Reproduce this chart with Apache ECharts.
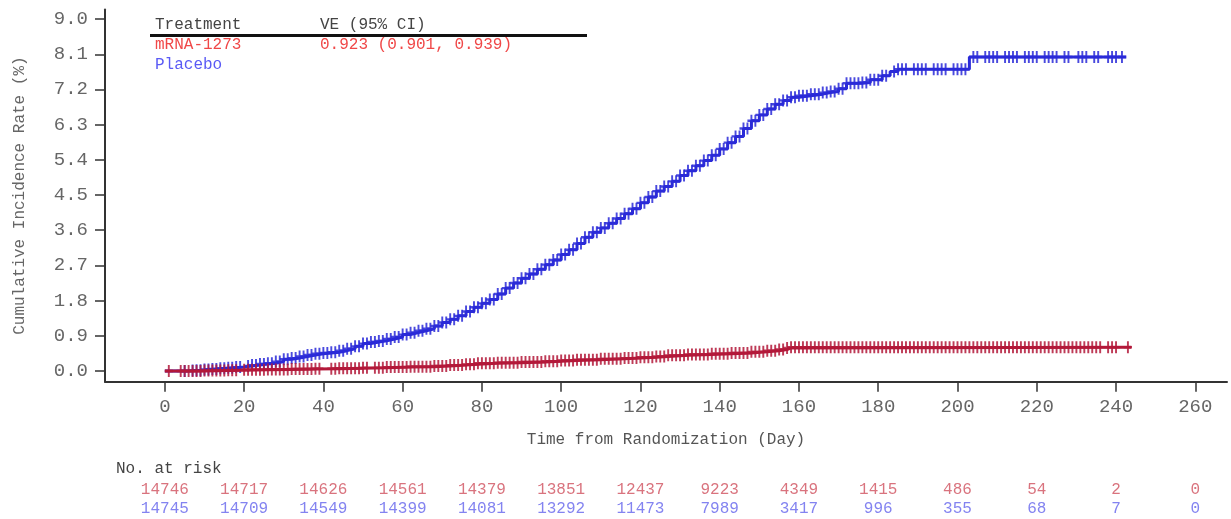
<!DOCTYPE html>
<html>
<head>
<meta charset="utf-8">
<script src="https://cdn.jsdelivr.net/npm/echarts@6/dist/echarts.min.js"></script>
<style>
html,body{margin:0;padding:0;background:#fff;}
#c{width:1231px;height:519px;}
</style>
</head>
<body>
<div id="c"></div>
<script>
// ---------- DATA ----------
const xTicks = [0,20,40,60,80,100,120,140,160,180,200,220,240,260];
const yTicks = [0.0,0.9,1.8,2.7,3.6,4.5,5.4,6.3,7.2,8.1,9.0];

// Placebo KM step points (day, cumulative incidence %)
const placeboDays = [0,6,8,10,12,14,16,18,20,22,24,26,28,30,32,34,36,38,40,42,44,46,48,50,52,54,56,58,60,62,64,66,68,70,72,74,76,78,80,82,84,86,88,90,92,94,96,98,100,102,104,106,108,110,112,114,116,118,120,122,124,126,128,130,132,134,136,138,140,142,144,146,148,150,152,154,156,158,160,163,166,168,170,172,176,178,181,183,185,203,242.6];
const placeboRate = [0,0.01,0.02,0.04,0.05,0.07,0.08,0.10,0.13,0.15,0.18,0.20,0.24,0.30,0.33,0.37,0.41,0.44,0.46,0.48,0.52,0.57,0.63,0.70,0.74,0.77,0.82,0.87,0.93,0.98,1.03,1.08,1.15,1.24,1.32,1.41,1.52,1.63,1.73,1.83,1.97,2.12,2.25,2.37,2.48,2.60,2.72,2.84,2.98,3.10,3.26,3.42,3.55,3.66,3.78,3.90,4.02,4.15,4.30,4.45,4.60,4.72,4.85,5.00,5.12,5.25,5.38,5.52,5.68,5.84,6.00,6.20,6.40,6.55,6.70,6.82,6.92,7.00,7.04,7.08,7.12,7.15,7.22,7.36,7.38,7.45,7.55,7.66,7.72,8.03,8.03];

// mRNA-1273 KM step points
const mrnaDays = [0,10,16,20,26,32,38,44,50,56,62,68,72,76,79,84,90,96,100,104,110,116,120,124,127,132,138,143,148,152,155,157,158,243.9];
const mrnaRate = [0,0.01,0.02,0.03,0.04,0.05,0.06,0.07,0.08,0.10,0.11,0.13,0.15,0.17,0.20,0.21,0.23,0.25,0.27,0.29,0.31,0.33,0.35,0.37,0.40,0.42,0.44,0.46,0.49,0.52,0.55,0.59,0.61,0.61];

// Censoring times (days)
const placeboCensor = [5,7,8,9,10,11,12,13,14,15,16,17,18,19,21,22,23,24,25,26,27,28,29,30,31,32,33,34,35,36,37,38,39,40,41,42,43,44,45,46,47,48,49,50,51,52,53,54,55,56,57,58,59,60,61,62,63,64,65,66,67,68,69,70,71,72,73,74,75,76,77,78,79,80,81,82,83,84,85,86,87,88,89,90,91,92,93,94,95,96,97,98,99,100,101,102,103,104,105,106,107,108,109,110,111,112,113,114,115,116,117,118,119,120,121,122,123,124,125,126,127,128,129,130,131,132,133,134,135,136,137,138,139,140,141,142,143,144,145,146,147,148,149,150,151,152,153,154,155,156,157,158,159,160,161,162,163,164,165,166,167,168,169,170,171,172,173,174,175,176,177,178,179,180,181,182,184,185,186,187,189,190,191,192,194,195,196,197,199,200,201,202,204,205,207,208,209,210,212,213,214,215,217,218,219,220,222,223,224,225,227,228,230.5,231.5,232.5,234.5,235.5,238,239,240,241.5];
const mrnaCensor = [1,4,5,6,7,8,9,10,11,12,13,14,15,16,17,18,20,21,22,23,24,25,26,27,28,29,30,31,32,33,34,35,36,37,38,39,42,43,44,45,46,47,48,49,50,51,53,54,55,56,57,58,59,60,61,62,63,64,65,66,67,68,69,70,71,72,73,74,75,76,77,78,79,80,81,82,83,84,85,86,87,88,89,90,91,92,93,94,95,96,97,98,99,100,101,102,103,104,105,106,107,108,109,110,111,112,113,114,115,116,117,118,119,120,121,122,123,124,125,126,127,128,129,130,131,132,133,134,135,136,137,138,139,140,141,142,143,144,145,146,147,148,149,150,151,152,153,154,155,156,157,158,159,160,161,162,163,164,165,166,167,168,169,170,171,172,173,174,175,176,177,178,179,180,181,182,183,184,185,186,187,188,189,190,191,192,193,194,195,196,197,198,199,200,201,202,203,204,205,206,207,208,209,210,211,212,213,214,215,216,217,218,219,220,221,222,223,224,225,226,227,228,229,230,231,232,233,234,235,236,238,239,240,243];

// Number at risk
const riskDays = [0,20,40,60,80,100,120,140,160,180,200,220,240,260];
const mrnaRisk = [14746,14717,14626,14561,14379,13851,12437,9223,4349,1415,486,54,2,0];
const placeboRisk = [14745,14709,14549,14399,14081,13292,11473,7989,3417,996,355,68,7,0];

// Legend / annotation text
const treatmentNames = ['mRNA-1273','Placebo'];
const veText = '0.923 (0.901, 0.939)';

// ---------- CHART ----------
const FONT = '"Liberation Mono", "DejaVu Sans Mono", monospace';
const RED = '#b3193a';
const BLUE = '#2a2ad8';

function stepAt(days, rates, t) {
  let v = rates[0];
  for (let i = 0; i < days.length; i++) { if (days[i] <= t) v = rates[i]; else break; }
  return v;
}
const pairs = (a, b) => a.map((d, i) => [d, b[i]]);
const crossPath = 'path://M3.8,0h2.4v10h-2.4z M0,4h10v2h-10z';

const chart = echarts.init(document.getElementById('c'), null, {renderer: 'canvas'});
const option = {
  animation: false,
  backgroundColor: '#fff',
  grid: [
    {left: 105, right: 4, top: 9.5, bottom: 137.3},
    {left: 105, right: 4, top: 480, height: 39}
  ],
  xAxis: [{
    type: 'value', gridIndex: 0, min: -15.1, max: 268,
    name: 'Time from Randomization (Day)', nameLocation: 'middle', nameGap: 50,
    nameTextStyle: {fontFamily: FONT, fontSize: 16, color: '#555'},
    axisLine: {show: true, onZero: false, lineStyle: {color: '#333', width: 2}},
    axisTick: {show: true, length: 10, lineStyle: {color: '#333', width: 1.5}, customValues: xTicks},
    axisLabel: {fontFamily: FONT, fontSize: 19, color: '#666', margin: 16, customValues: xTicks},
    splitLine: {show: false}
  }, {
    type: 'value', gridIndex: 1, min: -15.1, max: 268, show: false
  }],
  yAxis: [{
    type: 'value', gridIndex: 0, min: -0.274, max: 9.245,
    name: 'Cumulative Incidence Rate (%)', nameLocation: 'middle', nameGap: 77,
    nameTextStyle: {fontFamily: FONT, fontSize: 16, color: '#666'},
    axisLine: {show: true, onZero: false, lineStyle: {color: '#333', width: 2}},
    axisTick: {show: true, length: 10, lineStyle: {color: '#333', width: 1.5}, customValues: yTicks},
    axisLabel: {fontFamily: FONT, fontSize: 19, color: '#666', margin: 17, customValues: yTicks,
      formatter: v => Number(v).toFixed(1)},
    splitLine: {show: false}
  }, {
    type: 'value', gridIndex: 1, min: 0, max: 2, show: false
  }],
  series: [
    {
      type: 'line', name: 'Placebo', xAxisIndex: 0, yAxisIndex: 0, step: 'end',
      data: pairs(placeboDays, placeboRate), showSymbol: false, silent: true, z: 2,
      lineStyle: {color: BLUE, width: 3}
    },
    {
      type: 'scatter', xAxisIndex: 0, yAxisIndex: 0, silent: true, z: 3,
      data: placeboCensor.map(d => [d, stepAt(placeboDays, placeboRate, d)]),
      symbol: crossPath, symbolSize: [8, 12],
      itemStyle: {color: BLUE, opacity: 0.85}
    },
    {
      type: 'line', name: 'mRNA-1273', xAxisIndex: 0, yAxisIndex: 0, step: 'end',
      data: pairs(mrnaDays, mrnaRate), showSymbol: false, silent: true, z: 4,
      lineStyle: {color: RED, width: 3}
    },
    {
      type: 'scatter', xAxisIndex: 0, yAxisIndex: 0, silent: true, z: 5,
      data: mrnaCensor.map(d => [d, stepAt(mrnaDays, mrnaRate, d)]),
      symbol: crossPath, symbolSize: [8, 12],
      itemStyle: {color: RED, opacity: 0.85}
    },
    {
      type: 'scatter', xAxisIndex: 1, yAxisIndex: 1, silent: true,
      data: riskDays.map((d, i) => [d, 1.5, mrnaRisk[i]]),
      symbolSize: 1, itemStyle: {color: 'rgba(0,0,0,0)'},
      label: {show: true, position: 'inside', formatter: p => String(p.value[2]),
        fontFamily: FONT, fontSize: 16, color: '#d0505e'}
    },
    {
      type: 'scatter', xAxisIndex: 1, yAxisIndex: 1, silent: true,
      data: riskDays.map((d, i) => [d, 0.5, placeboRisk[i]]),
      symbolSize: 1, itemStyle: {color: 'rgba(0,0,0,0)'},
      label: {show: true, position: 'inside', formatter: p => String(p.value[2]),
        fontFamily: FONT, fontSize: 16, color: '#6464ec'}
    }
  ],
  graphic: [
    {type: 'text', left: 155, top: 17, style: {text: 'Treatment', font: '16px ' + FONT, fill: '#444'}},
    {type: 'text', left: 320, top: 17, style: {text: 'VE (95% CI)', font: '16px ' + FONT, fill: '#444'}},
    {type: 'line', shape: {x1: 150, y1: 35.5, x2: 587, y2: 35.5}, style: {stroke: '#111', lineWidth: 3}},
    {type: 'text', left: 155, top: 37, style: {text: treatmentNames[0], font: '16px ' + FONT, fill: '#f04848'}},
    {type: 'text', left: 320, top: 37, style: {text: veText, font: '16px ' + FONT, fill: '#f04848'}},
    {type: 'text', left: 155, top: 57, style: {text: treatmentNames[1], font: '16px ' + FONT, fill: '#5a5af5'}},
    {type: 'text', left: 116, top: 461, style: {text: 'No. at risk', font: '16px ' + FONT, fill: '#444'}}
  ]
};
chart.setOption(option);
</script>
</body>
</html>
